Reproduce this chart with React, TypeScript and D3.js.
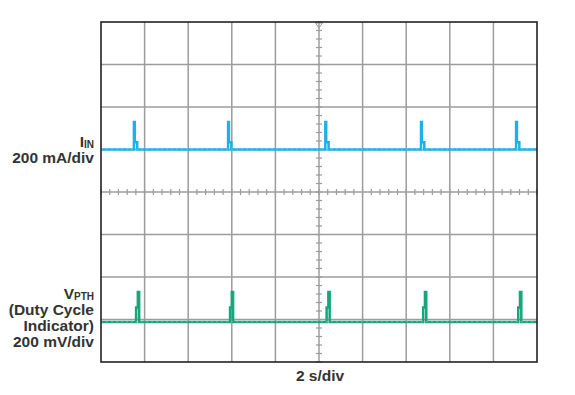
import * as d3 from "d3";

// scope screen: 10 horizontal divisions (2 s/div), 8 vertical divisions
const X_DIVS = 10;
const Y_DIVS = 8;
const SEC_PER_DIV = 2;

// I_IN trace (levels in divisions, 0 = screen centre)
const IIN_BASE = 1.0;
const IIN_SPIKES = [1.51, 5.83, 10.29, 14.68, 19.04];
const IIN_PROFILE_DT = [0, 0.04, 0.15];
const IIN_PROFILE_LEVEL = [1.65, 1.17, IIN_BASE];

// V_PTH trace (duty cycle indicator)
const VPTH_BASE = -3.06;
const VPTH_SPIKES = [1.69, 6.0, 10.43, 14.86, 19.22];
const VPTH_PROFILE_DT = [-0.08, 0, 0.06];
const VPTH_PROFILE_LEVEL = [-2.72, -2.35, VPTH_BASE];

const W = 575;
const H = 395;
const M = { left: 101, right: 537, top: 22, bottom: 362 };

const BLUE = "#1fb0e6";
const GREEN = "#16a67a";
const GRID = "#9c9c9c";
const TEXT = "#333333";
const FONT = "'Liberation Sans', Arial, sans-serif";

function tracePoints(
  base: number,
  spikes: number[],
  dts: number[],
  levels: number[],
): [number, number][] {
  const pts: [number, number][] = [[0, base]];
  for (const t of spikes) {
    dts.forEach((dt, i) => pts.push([t + dt, levels[i]]));
  }
  pts.push([X_DIVS * SEC_PER_DIV, base]);
  return pts;
}

export default function App() {
  const x = d3
    .scaleLinear()
    .domain([0, X_DIVS * SEC_PER_DIV])
    .range([M.left, M.right]);
  const y = d3
    .scaleLinear()
    .domain([-Y_DIVS / 2, Y_DIVS / 2])
    .range([M.bottom, M.top]);

  const line = d3
    .line<[number, number]>()
    .x((d) => x(d[0]))
    .y((d) => y(d[1]))
    .curve(d3.curveStepAfter);

  const iin = tracePoints(IIN_BASE, IIN_SPIKES, IIN_PROFILE_DT, IIN_PROFILE_LEVEL);
  const vpth = tracePoints(VPTH_BASE, VPTH_SPIKES, VPTH_PROFILE_DT, VPTH_PROFILE_LEVEL);

  const xGrid = d3.range(1, X_DIVS).map((i) => i * SEC_PER_DIV);
  const yGrid = d3.range(-Y_DIVS / 2 + 1, Y_DIVS / 2);
  const xMinor = d3.range(0, X_DIVS * 5 + 1).map((i) => (i * SEC_PER_DIV) / 5);
  const yMinor = d3.range(0, Y_DIVS * 5 + 1).map((i) => -Y_DIVS / 2 + i / 5);

  const cx = x((X_DIVS * SEC_PER_DIV) / 2);
  const cy = y(0);

  return (
    <svg
      width={W}
      height={H}
      style={{ position: "absolute", left: 0, top: 0, background: "#fff" }}
    >
      {/* grid */}
      {xGrid.map((t) => (
        <line
          key={"xg" + t}
          x1={x(t)}
          x2={x(t)}
          y1={M.top}
          y2={M.bottom}
          stroke={GRID}
          strokeWidth={1.5}
        />
      ))}
      {yGrid.map((v) => (
        <line
          key={"yg" + v}
          x1={M.left}
          x2={M.right}
          y1={y(v)}
          y2={y(v)}
          stroke={GRID}
          strokeWidth={1.5}
        />
      ))}

      {/* centre minor ticks */}
      {xMinor.map((t, i) => (
        <line
          key={"xm" + i}
          x1={x(t)}
          x2={x(t)}
          y1={cy - 3}
          y2={cy + 3}
          stroke={GRID}
          strokeWidth={1.2}
        />
      ))}
      {yMinor.map((v, i) => (
        <line
          key={"ym" + i}
          x1={cx - 3}
          x2={cx + 3}
          y1={y(v)}
          y2={y(v)}
          stroke={GRID}
          strokeWidth={1.2}
        />
      ))}
      <path
        d={`M${cx - 3.5},${M.top + 1} L${cx + 3.5},${M.top + 1} L${cx},${M.top + 6} Z`}
        fill="none"
        stroke={GRID}
        strokeWidth={1}
      />

      {/* traces */}
      <path d={line(iin) ?? ""} fill="none" stroke={BLUE} strokeWidth={2.5} />
      <line
        x1={M.left}
        x2={M.right}
        y1={y(IIN_BASE) - 0.4}
        y2={y(IIN_BASE) - 0.4}
        stroke="#ffffff"
        strokeOpacity={0.45}
        strokeWidth={0.6}
        strokeDasharray="2 3"
      />
      <path d={line(vpth) ?? ""} fill="none" stroke={GREEN} strokeWidth={2.5} />
      <line
        x1={M.left}
        x2={M.right}
        y1={y(VPTH_BASE) - 0.4}
        y2={y(VPTH_BASE) - 0.4}
        stroke="#ffffff"
        strokeOpacity={0.45}
        strokeWidth={0.6}
        strokeDasharray="2 3"
      />

      {/* frame */}
      <rect
        x={M.left}
        y={M.top}
        width={M.right - M.left}
        height={M.bottom - M.top}
        fill="none"
        stroke="#222"
        strokeWidth={1.6}
      />

      {/* labels */}
      <g fontFamily={FONT} fontWeight="bold" fill={TEXT} fontSize={15.5} textAnchor="end">
        <text x={94} y={147}>
          I<tspan fontSize={10} dy={1}>IN</tspan>
        </text>
        <text x={94} y={163}>200 mA/div</text>
        <text x={94} y={299}>
          V<tspan fontSize={10} dy={1}>PTH</tspan>
        </text>
        <text x={94} y={315}>(Duty Cycle</text>
        <text x={94} y={331}>Indicator)</text>
        <text x={94} y={347}>200 mV/div</text>
        <text x={cx + 1} y={381} textAnchor="middle">
          2 s/div
        </text>
      </g>
    </svg>
  );
}
